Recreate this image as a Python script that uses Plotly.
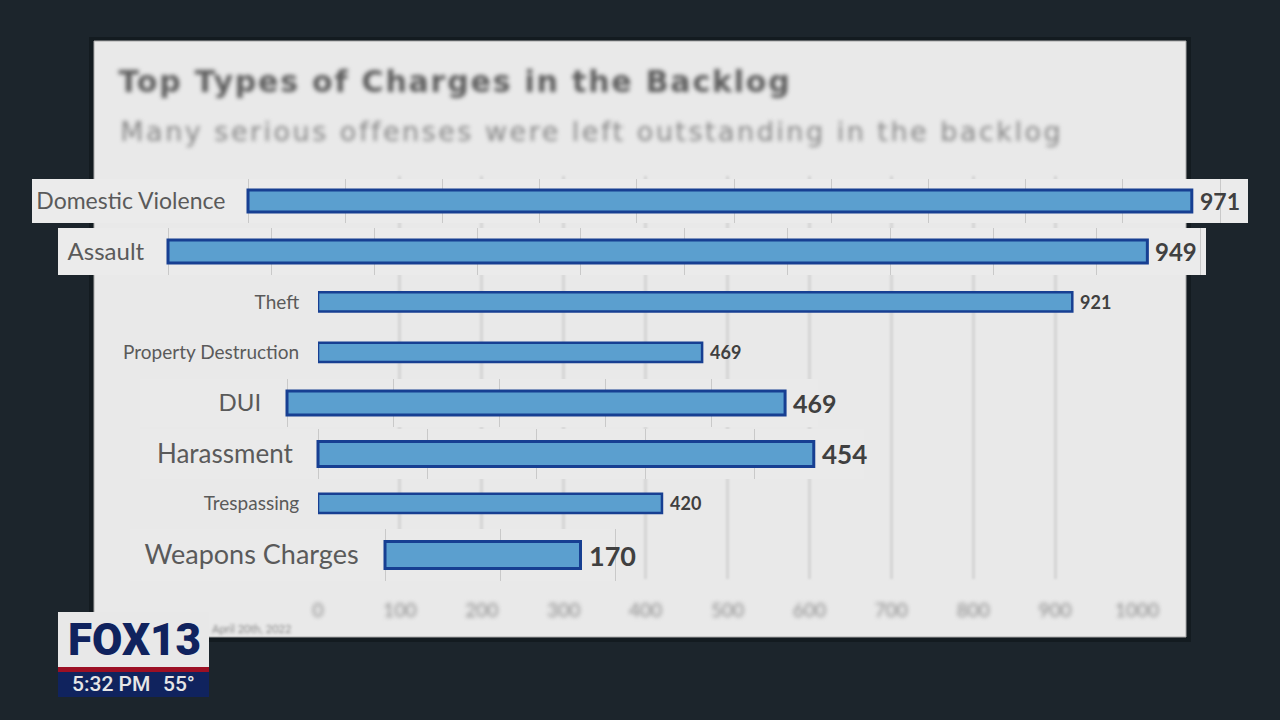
import plotly.graph_objects as go

# chart data
categories = ["Domestic Violence", "Assault", "Theft", "Property Destruction",
              "DUI", "Harassment", "Trespassing", "Weapons Charges"]
values = [971, 949, 921, 469, 469, 454, 420, 170]
axis_ticks = [0, 100, 200, 300, 400, 500, 600, 700, 800, 900, 1000]

title_text = "Top Types of Charges in the Backlog"
subtitle_text = "Many serious offenses were left outstanding in the backlog"
source_text = "April 20th, 2022"

W, H = 1280, 720
BG = "#1c252c"
CARD = "#e9e9e9"
STRIP = "#ebebeb"
STRIP_INNER = "#eaeaea"
FILL = "#5b9fcf"
EDGE = "#173f92"
LABEL = "#5a5a5a"
VALUE = "#404040"
NAVY = "#10235e"

# rows blown up as callouts: each gets its own axis. x is the pixel span of
# 0..top, y the pixel height of the strip, then strip left/right, bar height,
# label/value font size and label gap
callouts = {
    "Domestic Violence": dict(x=(248, 1220), y=(179, 223), top=1000, strip=(32, 1248), fill=STRIP, bar=22, size=23, vsize=23, gap=18),
    "Assault": dict(x=(168, 1200), y=(228, 275), top=1000, strip=(58, 1206), fill=STRIP, bar=23, size=24, vsize=24, gap=19),
    "DUI": dict(x=(287, 818), y=(379, 427), top=500, strip=(140, 818), fill=STRIP_INNER, bar=24, size=24, vsize=25, gap=21),
    "Harassment": dict(x=(318, 864), y=(429, 479), top=500, strip=(140, 864), fill=STRIP_INNER, bar=25, size=26, vsize=26, gap=20),
    "Weapons Charges": dict(x=(385, 615), y=(529, 581), top=200, strip=(130, 617), fill=STRIP_INNER, bar=27, size=27, vsize=27, gap=21),
}


def fx(px):
    return px / W


def fy(px):
    return 1 - px / H


def value_note(val, cat, xname, yname, size):
    return dict(text=str(val), x=val, y=cat, xref=xname, yref=yname, xanchor="left",
                yanchor="middle", xshift=6, showarrow=False,
                font=dict(family="Lato", size=size, weight="bold", color=VALUE))


fig = go.Figure()
value_notes = []

# main axis holds the rows that stay at normal size
main_y = [c for c in categories if c not in callouts]
main_x = [values[categories.index(c)] for c in main_y]
fig.add_trace(go.Bar(
    x=main_x, y=main_y, orientation="h", width=0.38,
    marker=dict(color=FILL, line=dict(color=EDGE, width=2.5)),
    cliponaxis=False, showlegend=False,
))
for v, c in zip(main_x, main_y):
    value_notes.append(value_note(v, c, "x", "y", 18))

fig.update_layout(
    width=W, height=H, margin=dict(l=0, r=0, t=0, b=0, autoexpand=False),
    paper_bgcolor=BG, plot_bgcolor="rgba(0,0,0,0)",
    showlegend=False,
    xaxis=dict(
        domain=[fx(318), fx(1137)], range=[0, 1000], anchor="y",
        tickmode="array", tickvals=axis_ticks, showgrid=True,
        gridcolor="#d4d4d4", gridwidth=3, zeroline=False,
        ticks="outside", ticklen=14, tickcolor="rgba(0,0,0,0)",
        tickfont=dict(family="Lato", size=19, color="#8c8c8c"),
    ),
    yaxis=dict(
        domain=[fy(579), fy(176)], anchor="x", type="category",
        categoryorder="array", categoryarray=categories,
        autorange=False, range=[len(categories) - 0.5, -0.5],
        tickmode="array", tickvals=main_y, showgrid=False, zeroline=False,
        showline=False, ticks="outside", ticklen=14, tickcolor="rgba(0,0,0,0)",
        tickfont=dict(family="Lato", size=19, color=LABEL),
    ),
)

shapes = [
    dict(type="rect", xref="paper", yref="paper", layer="below",
         x0=fx(89), x1=fx(1191), y0=fy(642), y1=fy(37),
         fillcolor="rgba(8,12,16,0.4)", line_width=0),
    dict(type="rect", xref="paper", yref="paper", layer="below",
         x0=fx(94), x1=fx(1186), y0=fy(637), y1=fy(41),
         fillcolor=CARD, line=dict(color="#a8a8a8", width=1)),
]

# one small subplot per callout row, drawn after the main one. The axis spans the whole
# strip so the strip shape can sit above the main grid and below this row's ticks
for n, cat in enumerate(callouts, start=2):
    row = callouts[cat]
    left, right = row["x"]
    strip_left, strip_right = row["strip"]
    px_per_unit = (right - left) / row["top"]
    x_range = [(strip_left - left) / px_per_unit, (strip_right - left) / px_per_unit]
    height = row["y"][1] - row["y"][0]
    val = values[categories.index(cat)]
    fig.add_trace(go.Bar(
        x=[val], y=[cat], orientation="h", xaxis=f"x{n}", yaxis=f"y{n}",
        width=row["bar"] / height,
        marker=dict(color=FILL, line=dict(color=EDGE, width=3)),
        cliponaxis=False, showlegend=False,
    ))
    value_notes.append(value_note(val, cat, f"x{n}", f"y{n}", row["vsize"]))
    fig.update_layout({
        f"xaxis{n}": dict(
            domain=[fx(strip_left), fx(strip_right)], range=x_range, anchor=f"y{n}",
            tickmode="array", tickvals=[t for t in axis_ticks if t <= row["top"]],
            showgrid=False, zeroline=False, showticklabels=False,
            ticks="inside", ticklen=height, tickwidth=1, tickcolor="#c9c9c9",
            layer="below traces",
        ),
        f"yaxis{n}": dict(
            domain=[fy(row["y"][1]), fy(row["y"][0])], anchor="free", position=fx(left),
            type="category", range=[-0.5, 0.5],
            showgrid=False, zeroline=False, showline=False,
            ticks="outside", ticklen=row["gap"], tickcolor="rgba(0,0,0,0)",
            tickfont=dict(family="Lato", size=row["size"], color=LABEL),
        ),
    })
    shapes.append(dict(
        type="rect", xref=f"x{n}", yref=f"y{n}", layer="between",
        x0=x_range[0], x1=x_range[1], y0=-0.5, y1=0.5, fillcolor=row["fill"], line_width=0,
    ))

# station bug
shapes += [
    dict(type="rect", xref="paper", yref="paper", layer="above",
         x0=fx(58), x1=fx(209), y0=fy(667), y1=fy(612), fillcolor="#e8e8e8", line_width=0),
    dict(type="rect", xref="paper", yref="paper", layer="above",
         x0=fx(58), x1=fx(209), y0=fy(672), y1=fy(667), fillcolor="#9c1024", line_width=0),
    dict(type="rect", xref="paper", yref="paper", layer="above",
         x0=fx(58), x1=fx(209), y0=fy(697), y1=fy(672), fillcolor=NAVY, line_width=0),
]
fig.update_layout(shapes=shapes)

# first three annotations get blurred below, keep them first.
# letter-spacing grows the text both ways from its middle, hence the larger x on the first two
fig.update_layout(annotations=[
    dict(text=title_text, xref="paper", yref="paper", x=fx(148), y=fy(81),
         xanchor="left", yanchor="middle", showarrow=False,
         font=dict(family="DejaVu Sans", size=30, weight="bold", color="#5c5c5c")),
    dict(text=subtitle_text, xref="paper", yref="paper", x=fx(191), y=fy(131),
         xanchor="left", yanchor="middle", showarrow=False,
         font=dict(family="DejaVu Sans", size=27, color="#858585")),
    dict(text=source_text, xref="paper", yref="paper", x=fx(293), y=fy(628),
         xanchor="right", yanchor="middle", showarrow=False,
         font=dict(family="Lato", size=11, color="#888888")),
    dict(text="FOX13", xref="paper", yref="paper", x=fx(134), y=fy(640),
         xanchor="center", yanchor="middle", showarrow=False,
         font=dict(family="Roboto", size=44, weight=900, color=NAVY)),
    dict(text="5:32 PM", xref="paper", yref="paper", x=fx(70), y=fy(684),
         xanchor="left", yanchor="middle", showarrow=False,
         font=dict(family="Roboto", size=21, weight=500, color="#e6e6e6")),
    dict(text="55°", xref="paper", yref="paper", x=fx(161), y=fy(684),
         xanchor="left", yanchor="middle", showarrow=False,
         font=dict(family="Roboto", size=21, weight=500, color="#e6e6e6")),
] + value_notes)

# the source picture has the underlying title, axis labels and grid out of focus
blur_css = """
.annotation[data-index="0"] text {filter: blur(2px); letter-spacing: 1.8px;}
.annotation[data-index="1"] text {filter: blur(2px); letter-spacing: 2.5px;}
.annotation[data-index="2"] text {filter: blur(1.5px);}
.xtick text {filter: blur(2px);}
.subplot.xy .gridlayer path {filter: blur(1px);}
"""
post = ("document.body.style.margin='0';document.body.style.overflow='hidden';"
        "var s=document.createElement('style');s.textContent=%r;document.head.appendChild(s);" % blur_css)
fig.write_html("out.html", config={"displayModeBar": False}, post_script=post)
